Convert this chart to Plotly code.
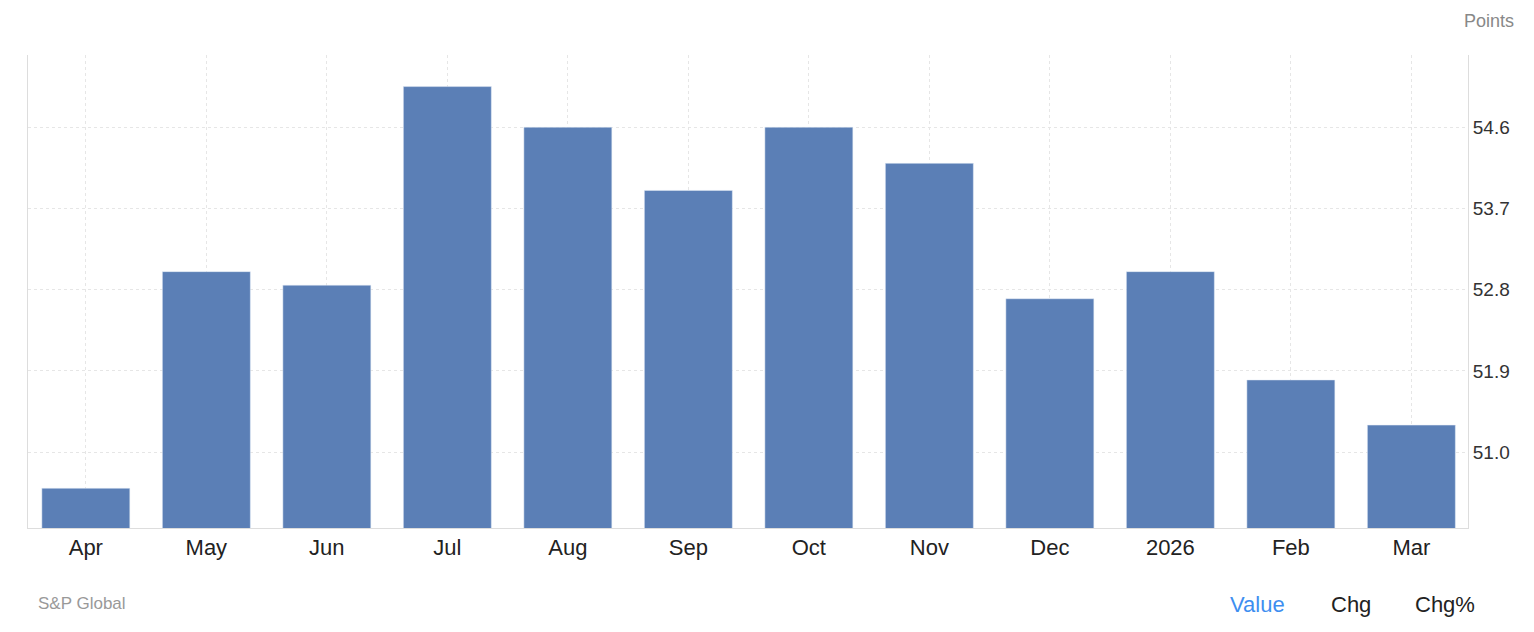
import plotly.graph_objects as go

months = ["Apr","May","Jun","Jul","Aug","Sep","Oct","Nov","Dec","2026","Feb","Mar"]
values = [50.6, 53.0, 52.85, 55.05, 54.6, 53.9, 54.6, 54.2, 52.7, 53.0, 51.8, 51.3]
yticks = [51.0, 51.9, 52.8, 53.7, 54.6]

fig = go.Figure(go.Bar(x=months, y=values, marker_color="#5b7fb6", width=0.73))
fig.update_layout(
    width=1534, height=632, plot_bgcolor="white", paper_bgcolor="white",
    margin=dict(l=20, r=74, t=47, b=112), showlegend=False,
    font=dict(family="Liberation Sans, Arial", color="#333"),
)
fig.update_xaxes(range=[-0.48, 11.47], showgrid=True, gridcolor="#e6e6e6", griddash="dot",
                 tickfont=dict(size=22, color="#222"), showline=True, linecolor="#ddd", ticks="")
fig.update_yaxes(side="right", range=[50.16, 55.40], tickvals=yticks, ticktext=[f"{v:.1f}" for v in yticks],
                 showgrid=True, gridcolor="#e6e6e6", griddash="dot", tickfont=dict(size=19, color="#333"),
                 showline=True, linecolor="#ddd", mirror=True, zeroline=False)

def annp(t, px, py, color, size, anchor="left"):
    x0, x1, y0, y1 = 28, 1468, 55, 528
    fig.add_annotation(text=t, x=(px-x0)/(x1-x0), y=(y1-py)/(y1-y0), xref="paper", yref="paper",
                       xanchor=anchor, yanchor="middle", showarrow=False, font=dict(size=size, color=color))
annp("Points", 1516, 21, "#888", 18, "right")
annp("S&P Global", 36, 603, "#999", 17)
annp("Value", 1287, 604, "#3d8ef0", 22, "right")
annp("Chg", 1373, 604, "#222", 22, "right")
annp("Chg%", 1477, 604, "#222", 22, "right")
fig.write_html("out.html")
